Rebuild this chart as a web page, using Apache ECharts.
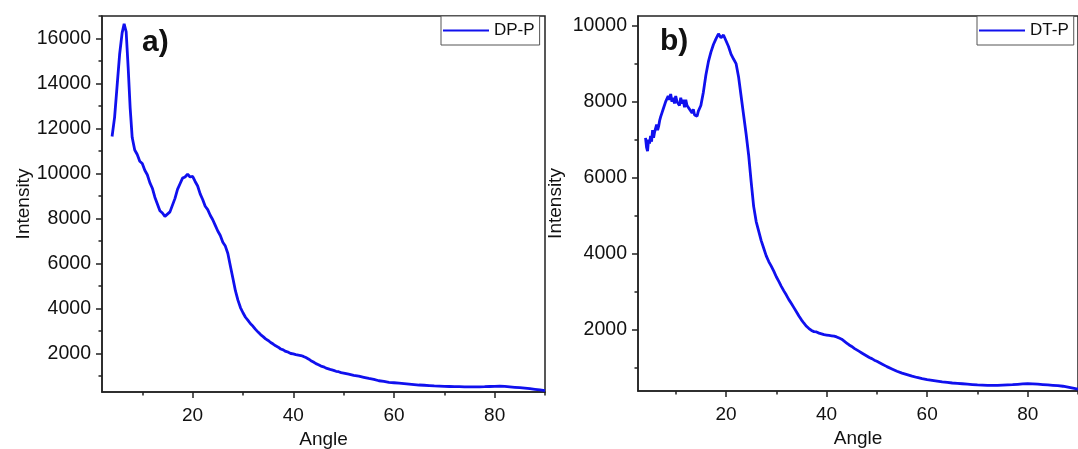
<!DOCTYPE html>
<html>
<head>
<meta charset="utf-8">
<script src="https://cdn.jsdelivr.net/npm/echarts@6/dist/echarts.min.js"></script>
<style>html,body{margin:0;padding:0;background:#fff}#c{width:1078px;height:449px}</style>
</head>
<body>
<div id="c"></div>
<script>
// ---- data ----
var dpAngle = [4,4.5,5,5.5,6,6.4,6.8,7.2,7.6,8,8.5,9,9.5,10,10.5,11,11.5,12,12.5,13,13.5,14,14.5,15,15.5,16,16.5,17,17.5,18,18.5,19,19.5,20,20.5,21,21.5,22,22.5,23,23.5,24,24.5,25,25.5,26,26.5,27,27.5,28,28.5,29,29.5,30,30.5,31,31.5,32,32.5,33,33.5,34,34.5,35,35.5,36,36.5,37,37.5,38,38.5,39,39.5,40,40.5,41,41.5,42,42.5,43,43.5,44,44.5,45,45.5,46,46.5,47,47.5,48,48.5,49,49.5,50,51,52,53,54,55,56,57,58,59,60,61,62,63,64,65,66,67,68,69,70,71,72,73,74,75,76,77,78,79,80,81,82,83,84,85,86,87,88,89,90];
var dpIntensity = [11650,12500,13900,15300,16250,16650,16300,14700,12900,11600,11050,10850,10550,10450,10150,9950,9600,9350,8950,8650,8350,8250,8100,8200,8300,8600,8900,9300,9550,9800,9850,9980,9850,9880,9650,9450,9100,8850,8550,8400,8150,7950,7700,7450,7250,6950,6780,6450,5900,5350,4800,4380,4050,3820,3620,3480,3330,3220,3080,2960,2850,2760,2660,2590,2500,2430,2350,2290,2210,2170,2100,2070,2010,1990,1960,1940,1920,1880,1830,1770,1690,1630,1560,1510,1450,1420,1360,1330,1290,1260,1220,1200,1160,1140,1090,1040,1000,950,900,860,800,770,730,710,690,670,650,630,610,600,585,570,560,550,545,540,535,530,530,530,530,535,545,550,560,550,530,510,490,470,450,420,390,360];

var dtAngle = [4,4.2,4.4,4.6,4.8,5,5.2,5.4,5.6,5.8,6,6.2,6.4,6.6,6.8,7,7.25,7.5,7.75,8,8.25,8.5,8.75,9,9.25,9.5,9.75,10,10.25,10.5,10.75,11,11.25,11.5,11.75,12,12.25,12.5,12.75,13,13.25,13.5,13.75,14,14.25,14.5,14.75,15,15.5,16,16.5,17,17.5,18,18.5,19,19.5,20,20.5,21,21.5,22,22.5,23,23.5,24,24.5,25,25.5,26,26.5,27,27.5,28,28.5,29,29.5,30,30.5,31,31.5,32,32.5,33,33.5,34,34.5,35,35.5,36,36.5,37,37.5,38,38.5,39,39.5,40,40.5,41,41.5,42,42.5,43,43.5,44,44.5,45,45.5,46,46.5,47,47.5,48,48.5,49,49.5,50,51,52,53,54,55,56,57,58,59,60,61,62,63,64,65,66,67,68,69,70,71,72,73,74,75,76,77,78,79,80,81,82,83,84,85,86,87,88,89,90];
var dtIntensity = [7050,6800,6700,7000,6900,7100,6950,7250,7050,7200,7150,7400,7250,7350,7500,7600,7700,7800,7850,8000,7950,8150,8050,8200,8000,8100,7950,8150,8000,8050,7900,8100,7950,8050,7850,8050,7900,7950,7800,7850,7700,7800,7650,7700,7620,7750,7800,7900,8250,8700,9050,9300,9500,9650,9780,9680,9750,9600,9450,9250,9120,9000,8650,8150,7650,7150,6600,5900,5250,4850,4600,4350,4150,3950,3800,3680,3550,3400,3280,3150,3030,2920,2800,2700,2590,2480,2370,2270,2180,2100,2040,1990,1960,1950,1920,1900,1880,1870,1860,1850,1840,1820,1790,1760,1710,1660,1610,1570,1520,1480,1440,1400,1360,1320,1280,1250,1210,1180,1110,1040,980,920,870,830,790,755,725,700,680,660,640,625,610,600,590,580,570,560,555,550,550,550,555,560,565,575,585,590,585,580,570,560,550,540,525,500,475,450];

var xMajor = [20,40,60,80];
var xMinor = [10,30,50,70,90];
var dpYMajor = [2000,4000,6000,8000,10000,12000,14000,16000];
var dpYMinor = [1000,3000,5000,7000,9000,11000,13000,15000,17000];
var dtYMajor = [2000,4000,6000,8000,10000];
var dtYMinor = [1000,3000,5000,7000,9000];

function pairs(a, b){ var r=[]; for (var i=0;i<a.length;i++) r.push([a[i], b[i]]); return r; }
function plain(v){ return String(v); }

var FONT = 'Liberation Sans, Arial, sans-serif';
var AX = '#222';
var BLUE = '#1010ee';

function mainX(grid, min, max){
  return {type:'value', gridIndex:grid, position:'bottom', min:min, max:max, name:'Angle', nameLocation:'middle', nameGap:36,
    nameTextStyle:{fontFamily:FONT, fontSize:19, color:'#111'},
    axisLine:{show:true, onZero:false, lineStyle:{color:AX, width:1.5}},
    axisTick:{show:true, inside:false, length:6, customValues:xMajor, lineStyle:{color:AX, width:1.5}},
    axisLabel:{customValues:xMajor, formatter:plain, margin:14, fontFamily:FONT, fontSize:19, color:'#111'},
    splitLine:{show:false}};
}
function minorX(grid, min, max){
  return {type:'value', gridIndex:grid, position:'bottom', min:min, max:max,
    axisLine:{show:false, onZero:false},
    axisTick:{show:true, inside:false, length:3.5, customValues:xMinor, lineStyle:{color:AX, width:1.5}},
    axisLabel:{show:false}, splitLine:{show:false}};
}
function mainY(grid, min, max, major, gap){
  return {type:'value', gridIndex:grid, position:'left', min:min, max:max, name:'Intensity', nameLocation:'middle', nameGap:gap,
    nameTextStyle:{fontFamily:FONT, fontSize:19, color:'#111'},
    axisLine:{show:true, onZero:false, lineStyle:{color:AX, width:1.5}},
    axisTick:{show:true, inside:false, length:6, customValues:major, lineStyle:{color:AX, width:1.5}},
    axisLabel:{customValues:major, formatter:plain, margin:11, fontFamily:FONT, fontSize:19.5, color:'#111'},
    splitLine:{show:false}};
}
function minorY(grid, min, max, minor){
  return {type:'value', gridIndex:grid, position:'left', min:min, max:max,
    axisLine:{show:false, onZero:false},
    axisTick:{show:true, inside:false, length:3.5, customValues:minor, lineStyle:{color:AX, width:1.5}},
    axisLabel:{show:false}, splitLine:{show:false}};
}
function legend(name, left){
  return {data:[name], left:left, top:16, orient:'horizontal', backgroundColor:'#fff',
    borderColor:'#555', borderWidth:1, borderRadius:0, padding:[6,5,6,2], itemGap:0,
    icon:'rect', itemWidth:46, itemHeight:2,
    textStyle:{fontFamily:FONT, fontSize:17, color:'#111', padding:[0,0,0,0]}};
}

var chart = echarts.init(document.getElementById('c'), null, {renderer:'canvas'});
chart.setOption({
  animation:false,
  backgroundColor:'#fff',
  title:[
    {text:'a)', left:142, top:28, padding:0, textStyle:{fontFamily:FONT, fontSize:30, fontWeight:'bold', color:'#111'}},
    {text:'b)', left:660, top:27, padding:0, textStyle:{fontFamily:FONT, fontSize:30, fontWeight:'bold', color:'#111'}}
  ],
  legend:[legend('DP-P', 441), legend('DT-P', 977)],
  grid:[
    {left:102, top:16, width:443, height:376, show:true, borderColor:AX, borderWidth:1.5, backgroundColor:'transparent', containLabel:false, outerBoundsMode:'none'},
    {left:638, top:16, width:440, height:375, show:true, borderColor:AX, borderWidth:1.5, backgroundColor:'transparent', containLabel:false, outerBoundsMode:'none'}
  ],
  xAxis:[mainX(0,2,90), minorX(0,2,90), mainX(1,2.5,90), minorX(1,2.5,90)],
  yAxis:[mainY(0,300,17000,dpYMajor,69), minorY(0,300,17000,dpYMinor), mainY(1,400,10250,dtYMajor,73), minorY(1,400,10250,dtYMinor)],
  series:[
    {name:'DP-P', type:'line', xAxisIndex:0, yAxisIndex:0, data:pairs(dpAngle, dpIntensity), showSymbol:false, symbol:'none', smooth:false,
      lineStyle:{color:BLUE, width:2.8}, itemStyle:{color:BLUE}},
    {name:'DT-P', type:'line', xAxisIndex:2, yAxisIndex:2, data:pairs(dtAngle, dtIntensity), showSymbol:false, symbol:'none', smooth:false,
      lineStyle:{color:BLUE, width:2.8}, itemStyle:{color:BLUE}}
  ]
});
</script>
</body>
</html>
